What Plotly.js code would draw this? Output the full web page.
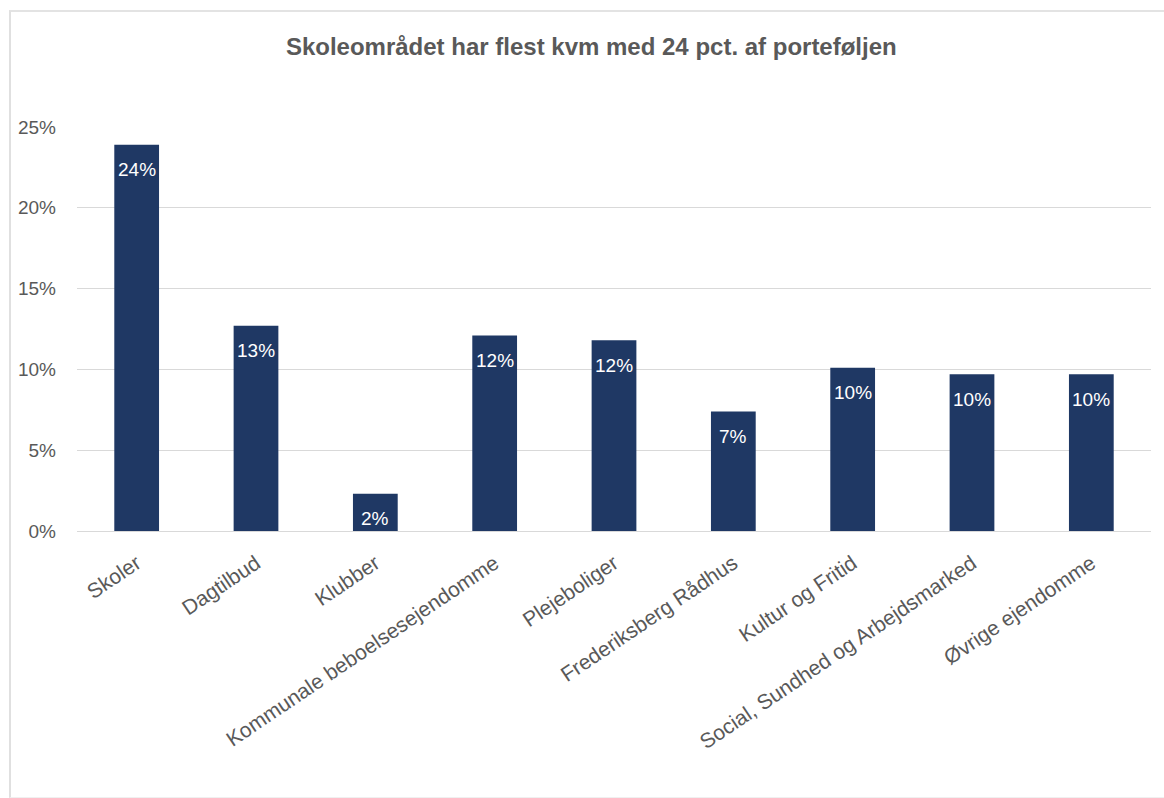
<!DOCTYPE html>
<html>
<head>
<meta charset="utf-8">
<script src="https://cdn.plot.ly/plotly-3.0.1.min.js"></script>
<style>
html, body { margin: 0; padding: 0; background: #ffffff; }
#chart { width: 1164px; height: 798px; position: absolute; left: 0; top: 0; }
#frame { position: absolute; left: 9px; top: 10px; width: 1170px; height: 785px;
  border-left: 2px solid #e0e0e0; border-top: 2px solid #e3e3e3; border-bottom: 1px solid #f0f0f0;
  pointer-events: none; }
</style>
</head>
<body>
<div id="chart"></div>
<div id="frame"></div>
<script>
const categories = [
  "Skoler",
  "Dagtilbud",
  "Klubber",
  "Kommunale beboelsesejendomme",
  "Plejeboliger",
  "Frederiksberg Rådhus",
  "Kultur og Fritid",
  "Social, Sundhed og Arbejdsmarked",
  "Øvrige ejendomme"
];
const sharePct = [23.9, 12.7, 2.3, 12.1, 11.8, 7.4, 10.1, 9.7, 9.7];
const yTickVals = [0, 5, 10, 15, 20, 25];
const yTickText = ["0%", "5%", "10%", "15%", "20%", "25%"];
const titleText = "Skoleområdet har flest kvm med 24 pct. af porteføljen";

const barColor = "#1f3864";
const textGray = "#595959";
const fontFam = "Liberation Sans, Arial, sans-serif";

const trace = {
  type: "bar",
  x: categories,
  y: sharePct,
  marker: { color: barColor },
  width: 0.375,
  hoverinfo: "x+y"
};

const annotations = categories.map((c, i) => ({
  x: c,
  y: sharePct[i],
  xref: "x",
  yref: "y",
  text: Math.round(sharePct[i]) + "%",
  showarrow: false,
  yanchor: "middle",
  yshift: -25,
  font: { family: fontFam, size: 19, color: "#ffffff" }
}));

const layout = {
  width: 1164,
  height: 798,
  margin: { l: 77, r: 13, t: 127, b: 267 },
  paper_bgcolor: "rgba(0,0,0,0)",
  plot_bgcolor: "#ffffff",
  showlegend: false,
  bargap: 0.625,
  title: {
    text: "<b>" + titleText + "</b>",
    x: 0.508,
    xanchor: "center",
    y: 0.941,
    yanchor: "middle",
    font: { family: fontFam, size: 24, color: textGray }
  },
  xaxis: {
    type: "category",
    tickangle: -34,
    tickfont: { family: fontFam, size: 21, color: textGray },
    showgrid: false,
    showline: true,
    linecolor: "#d9d9d9",
    linewidth: 1,
    ticks: "",
    ticklabelstandoff: 11,
    zeroline: false
  },
  yaxis: {
    range: [0, 25],
    tickvals: yTickVals,
    ticktext: yTickText,
    tickfont: { family: fontFam, size: 19, color: textGray },
    showgrid: true,
    gridcolor: "#d9d9d9",
    gridwidth: 1,
    zeroline: false,
    showline: false,
    ticks: "",
    ticklabelstandoff: 20,
    fixedrange: true
  },
  annotations: annotations
};

Plotly.newPlot("chart", [trace], layout, { displayModeBar: false, staticPlot: true });
</script>
</body>
</html>
